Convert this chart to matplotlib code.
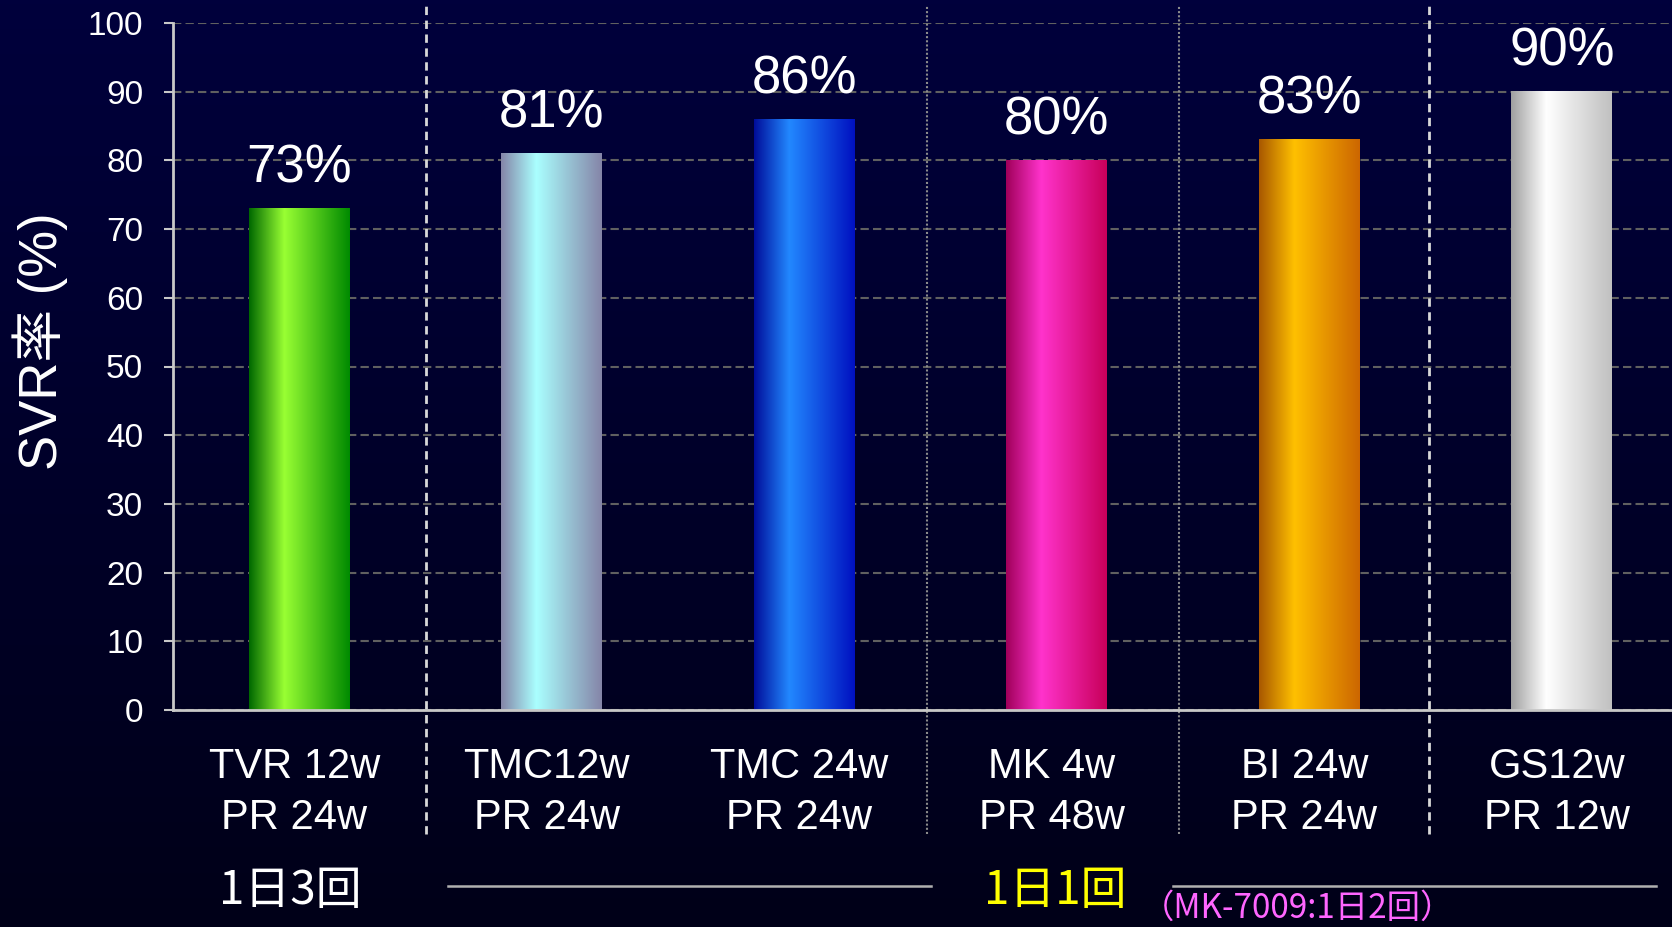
import numpy as np
import matplotlib
matplotlib.use("Agg")
import matplotlib.pyplot as plt
from matplotlib.colors import LinearSegmentedColormap
from matplotlib.transforms import blended_transform_factory

plt.rcParams['font.family'] = ['Liberation Sans', 'Noto Sans CJK JP']

# data
line1 = ['TVR 12w', 'TMC12w', 'TMC 24w', 'MK 4w', 'BI 24w', 'GS12w']
line2 = ['PR 24w', 'PR 24w', 'PR 24w', 'PR 48w', 'PR 24w', 'PR 12w']
svr = [73, 81, 86, 80, 83, 90]
yticks = list(range(0, 101, 10))

# bar gradient stops (left edge, highlight, right edge)
bar_shades = [
    ('#006800', '#99ff33', '#008a00'),
    ('#8585a8', '#aaffff', '#8585a8'),
    ('#000c99', '#2288ff', '#0010c0'),
    ('#a0005a', '#ff33cc', '#c8005a'),
    ('#a85800', '#ffc000', '#cc6600'),
    ('#a0a0a0', '#ffffff', '#c0c0c0'),
]

W, H = 1672, 927
fig = plt.figure(figsize=(W / 100, H / 100), dpi=100)

# background gradient
bg = fig.add_axes([0, 0, 1, 1], zorder=-1)
grad = np.linspace(0, 1, 256).reshape(-1, 1)
bg_cmap = LinearSegmentedColormap.from_list('bg', ['#00003c', '#000018'])
bg.imshow(grad, cmap=bg_cmap, aspect='auto', extent=[0, 1, 0, 1])
bg.axis('off')

ax_l, ax_r, ax_t, ax_b = 173, 1672, 23, 710
ax = fig.add_axes([ax_l / W, 1 - ax_b / H, (ax_r - ax_l) / W, (ax_b - ax_t) / H])
ax.patch.set_visible(False)

x = np.arange(len(svr))
bars = ax.bar(x, svr, width=0.40, color='none', edgecolor='none', zorder=2)

hgrad = np.linspace(0, 1, 256).reshape(1, -1)
for rect, shades in zip(bars, bar_shades):
    cmap = LinearSegmentedColormap.from_list('b', [(0, shades[0]), (0.35, shades[1]), (1, shades[2])])
    x0 = rect.get_x()
    ax.imshow(hgrad, cmap=cmap, aspect='auto', zorder=2,
              extent=[x0, x0 + rect.get_width(), 0, rect.get_height()])

slot = 252.5
ax.set_xlim(-0.5, -0.5 + (ax_r - ax_l) / slot)
ax.set_ylim(0, 100)

ax.set_yticks(yticks)
ax.set_xticks([])
ax.tick_params(axis='y', colors='#c8c8c8', labelcolor='white', labelsize=24,
               length=6.5, width=1.5, pad=15)
for s in ['top', 'right']:
    ax.spines[s].set_visible(False)
for s in ['left', 'bottom']:
    ax.spines[s].set_color('#c8c8c8')
    ax.spines[s].set_linewidth(2)
    ax.spines[s].set_zorder(3)
ax.yaxis.grid(True, linestyle=(0, (4, 2)), color='#606060', linewidth=1.5)
ax.set_axisbelow(True)

# value labels
for xi, v in zip(x, svr):
    ax.text(xi, v + 3.8, f'{v}%', ha='center', va='baseline', color='white', fontsize=38)

# category labels
for xi, a, b in zip(x, line1, line2):
    ax.text(xi - 0.02, -9.9, a, ha='center', va='baseline', color='white', fontsize=30, clip_on=False)
    ax.text(xi - 0.02, -17.3, b, ha='center', va='baseline', color='white', fontsize=30, clip_on=False)

# group separators
tr = blended_transform_factory(ax.transData, ax.transAxes)
ytop = 1 + (ax_t - 5) / (ax_b - ax_t)
ybot = -(834 - ax_b) / (ax_b - ax_t)
for xs in [0.5, 4.475]:
    ax.plot([xs, xs], [ybot, ytop], transform=tr, clip_on=False, color='#d8d8d8',
            linewidth=2, linestyle=(0, (3, 2)), zorder=1)
for xs in [2.485, 3.485]:
    ax.plot([xs, xs], [ybot, ytop], transform=tr, clip_on=False, color='#8a8a8a',
            linewidth=1.5, linestyle=(0, (1, 1)), zorder=1)

fig.text(40 / W, 1 - 341 / H, 'SVR率 (%)', rotation=90, ha='center', va='center',
         color='white', fontsize=38)

# dosing groups
cjk = ['Noto Sans CJK JP', 'Liberation Sans']
fig.text(290 / W, 1 - 891 / H, '1日3回', ha='center', va='center', color='white',
         fontsize=33, family=cjk)
fig.text(1055 / W, 1 - 891 / H, '1日1回', ha='center', va='center', color='#ffff00',
         fontsize=33, family=cjk)
fig.text(1297 / W, 1 - 908 / H, '（MK-7009:1日2回）', ha='center', va='center',
         color='#ff66ff', fontsize=24, family=cjk)
for xa, xb in [(448, 931), (1173, 1656)]:
    fig.add_artist(plt.Line2D([xa / W, xb / W], [1 - 886 / H, 1 - 886 / H],
                              color='#b0b0b0', linewidth=1.8))

fig.savefig('out.png', dpi=100)
